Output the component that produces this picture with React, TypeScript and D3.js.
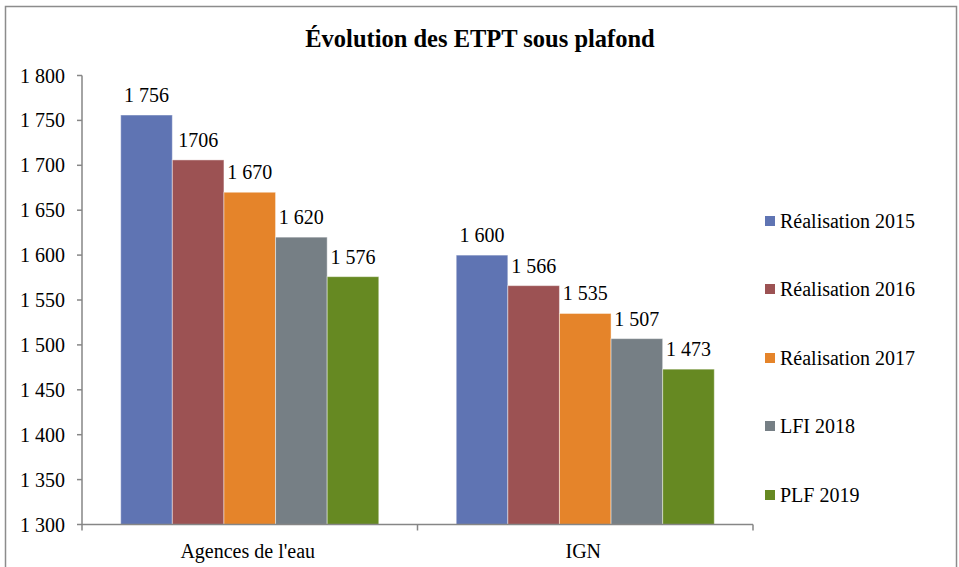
import React from "react";
import * as d3 from "d3";

const categories = ["Agences de l'eau", "IGN"];
const seriesNames = ["Réalisation 2015", "Réalisation 2016", "Réalisation 2017", "LFI 2018", "PLF 2019"];
const seriesColors = ["#5F74B3", "#9C5253", "#E5842A", "#767F85", "#668922"];
const agencesValues = [1756, 1706, 1670, 1620, 1576];
const ignValues = [1600, 1566, 1535, 1507, 1473];
const valueLabelsAgences = ["1 756", "1706", "1 670", "1 620", "1 576"];
const valueLabelsIgn = ["1 600", "1 566", "1 535", "1 507", "1 473"];
const yTicks = [1300, 1350, 1400, 1450, 1500, 1550, 1600, 1650, 1700, 1750, 1800];

const W = 959;
const H = 567;
const FONT = "Liberation Serif";

export default function App() {
  const plotLeft = 82;
  const plotRight = 753;
  const plotTop = 75.5;
  const plotBottom = 524.5;

  const y = d3.scaleLinear().domain([1300, 1800]).range([plotBottom, plotTop]);
  const x0 = d3.scaleBand<string>().domain(categories).range([plotLeft, plotRight]).paddingInner(0).paddingOuter(0);
  const groupFrac = 5 / 6.5;
  const x1 = d3
    .scaleBand<string>()
    .domain(seriesNames)
    .range([0, x0.bandwidth() * groupFrac]);
  const groupOffset = (x0.bandwidth() * (1 - groupFrac)) / 2;

  const data = [agencesValues, ignValues];
  const labels = [valueLabelsAgences, valueLabelsIgn];

  const fmtTick = (v: number) => {
    const s = String(v);
    return s.slice(0, s.length - 3) + " " + s.slice(s.length - 3);
  };

  const legendX = 765;
  const legendYs = [221, 289, 358, 426, 495];
  const txt = (size: number, weight: string = "normal") => ({ fontFamily: FONT, fontSize: size, fontWeight: weight as any });

  return (
    <svg width={W} height={H} style={{ position: "absolute", left: 0, top: 0, display: "block" }}>
      <rect x={0} y={0} width={W} height={H} fill="#fff" />
      <rect x={5.5} y={6.5} width={951} height={570} fill="#fff" stroke="#8c8c8c" strokeWidth={1.5} />
      <text x={480} y={47} textAnchor="middle" style={txt(24.5, "bold")} fill="#000">
        Évolution des ETPT sous plafond
      </text>

      {categories.map((cat, ci) =>
        seriesNames.map((s, si) => {
          const v = data[ci][si];
          const bx = (x0(cat) as number) + groupOffset + (x1(s) as number);
          const bw = x1.bandwidth();
          return (
            <g key={cat + s}>
              <rect
                x={bx}
                y={y(v)}
                width={bw}
                height={plotBottom - y(v)}
                fill={seriesColors[si]}
                stroke="rgba(255,255,255,0.45)"
                strokeWidth={1}
              />
              <text x={bx + bw / 2} y={y(v) - 13} textAnchor="middle" style={txt(20)} fill="#000">
                {labels[ci][si]}
              </text>
            </g>
          );
        })
      )}

      <line x1={plotLeft} x2={plotLeft} y1={plotTop} y2={plotBottom} stroke="#868686" strokeWidth={1.5} />
      {yTicks.map((t) => (
        <g key={t}>
          <line x1={plotLeft - 5} x2={plotLeft} y1={y(t)} y2={y(t)} stroke="#868686" strokeWidth={1.5} />
          <text x={65} y={y(t) + 7} textAnchor="end" style={txt(20)} fill="#000">
            {fmtTick(t)}
          </text>
        </g>
      ))}

      <line x1={plotLeft} x2={plotRight} y1={plotBottom} y2={plotBottom} stroke="#868686" strokeWidth={1.5} />
      {[plotLeft, ...categories.map((c) => (x0(c) as number) + x0.bandwidth())].map((tx, i) => (
        <line key={i} x1={tx} x2={tx} y1={plotBottom} y2={plotBottom + 6} stroke="#868686" strokeWidth={1.5} />
      ))}
      {categories.map((c) => (
        <text key={c} x={(x0(c) as number) + x0.bandwidth() / 2 - 2} y={558} textAnchor="middle" style={txt(20)} fill="#000">
          {c}
        </text>
      ))}

      {seriesNames.map((s, i) => (
        <g key={s}>
          <rect x={legendX} y={legendYs[i] - 5} width={10} height={10} fill={seriesColors[i]} />
          <text x={780} y={legendYs[i] + 7} style={txt(20)} fill="#000">
            {s}
          </text>
        </g>
      ))}
    </svg>
  );
}
